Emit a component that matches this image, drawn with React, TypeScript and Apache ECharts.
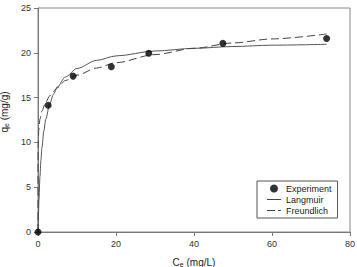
import React, { useEffect, useRef } from "react";
import * as echarts from "echarts";

const expC = [0, 2.6, 9.0, 18.8, 28.4, 47.4, 74.0];
const expQ = [0, 14.15, 17.4, 18.45, 19.95, 21.05, 21.6];

const langC = [0, 0.1, 0.25, 0.5, 0.75, 1, 1.5, 2, 3, 4, 5, 7, 10, 15, 20, 30, 40, 50, 60, 74];
const langQ = [0, 1.6, 3.6, 6.2, 8.0, 9.4, 11.3, 12.6, 14.3, 15.4, 16.2, 17.3, 18.25, 19.15, 19.65, 20.2, 20.5, 20.7, 20.85, 20.95];

const freuC = [0, 0.002, 0.01, 0.05, 0.2, 0.5, 1, 2, 3, 5, 7, 10, 15, 20, 30, 40, 50, 60, 74];
const freuQ = [0, 6.5, 8.0, 9.8, 11.4, 12.6, 13.5, 14.5, 15.2, 16.1, 16.9, 17.5, 18.3, 18.9, 19.8, 20.5, 21.1, 21.55, 22.1];

const xTicks = { min: 0, max: 80, interval: 20 };
const yTicks = { min: 0, max: 25, interval: 5 };

const FONT = "Liberation Sans, Arial, sans-serif";

export default function App() {
  const ref = useRef<HTMLDivElement>(null);
  useEffect(() => {
    if (!ref.current) return;
    const chart = echarts.init(ref.current, undefined, { renderer: "svg" });
    const pair = (xs: number[], ys: number[]) => xs.map((x, i) => [x, ys[i]]);
    chart.setOption({
      animation: false,
      textStyle: { fontFamily: FONT },
      grid: {
        left: 38, right: 7, top: 8, bottom: 35,
        containLabel: false,
        outerBoundsMode: "none",
        show: true, borderColor: "#888", borderWidth: 1,
      },
      legend: {
        orient: "vertical",
        left: 257, top: 181,
        padding: [3, 6, 3, 10],
        itemGap: 2,
        itemWidth: 14, itemHeight: 8,
        borderColor: "#555", borderWidth: 1,
        textStyle: { fontSize: 9, color: "#222", fontFamily: FONT },
        data: [
          { name: "Experiment", icon: "circle" },
          { name: "Langmuir", icon: "path://M0,0h14v1h-14z", itemStyle: { color: "#444" } },
          { name: "Freundlich", icon: "path://M0,0h8v1h-8z M11,0h3v1h-3z", itemStyle: { color: "#444" } },
        ],
      },
      xAxis: {
        type: "value",
        ...xTicks,
        name: "{a|C}{b|e} (mg/L)",
        nameLocation: "middle",
        nameGap: 25,
        nameTextStyle: {
          rich: {
            a: { fontSize: 10, color: "#222", fontFamily: FONT },
            b: { fontSize: 7, color: "#222", fontFamily: FONT, verticalAlign: "bottom", padding: [4, 0, 0, 0] },
          },
          fontSize: 10, color: "#222",
        },
        axisLine: { show: true, lineStyle: { color: "#777", width: 1 } },
        axisTick: { show: true, length: 4, lineStyle: { color: "#777" } },
        axisLabel: { fontSize: 9, color: "#333", margin: 7, fontFamily: FONT },
        splitLine: { show: false },
      },
      yAxis: {
        type: "value",
        ...yTicks,
        name: "{a|q}{b|e} (mg/g)",
        nameLocation: "middle",
        nameRotate: 90,
        nameGap: 21,
        nameTextStyle: {
          rich: {
            a: { fontSize: 10, color: "#222", fontFamily: FONT },
            b: { fontSize: 7, color: "#222", fontFamily: FONT, verticalAlign: "bottom", padding: [4, 0, 0, 0] },
          },
          fontSize: 10, color: "#222",
          padding: [0, 0, 0, 16],
        },
        axisLine: { show: true, lineStyle: { color: "#777", width: 1 } },
        axisTick: { show: true, length: 4, lineStyle: { color: "#777" } },
        axisLabel: { fontSize: 9, color: "#333", margin: 7, fontFamily: FONT },
        splitLine: { show: false },
      },
      series: [
        {
          name: "Langmuir",
          type: "line",
          data: pair(langC, langQ),
          showSymbol: false,
          symbol: "none",
          smooth: 0.3,
          smoothMonotone: "x",
          lineStyle: { color: "#555", width: 1 },
          itemStyle: { color: "#555" },
          z: 2,
        },
        {
          name: "Freundlich",
          type: "line",
          data: pair(freuC, freuQ),
          showSymbol: false,
          symbol: "none",
          smooth: 0.3,
          smoothMonotone: "x",
          lineStyle: { color: "#444", width: 1, type: [8, 4] },
          itemStyle: { color: "#444" },
          z: 2,
        },
        {
          name: "Experiment",
          type: "scatter",
          data: pair(expC, expQ),
          symbol: "circle",
          symbolSize: 7,
          itemStyle: { color: "#000" },
          z: 5,
        },
      ],
    });
    return () => chart.dispose();
  }, []);
  return (
    <div
      ref={ref}
      style={{ position: "fixed", left: 0, top: 0, width: 357, height: 267, background: "#fff" }}
    />
  );
}
